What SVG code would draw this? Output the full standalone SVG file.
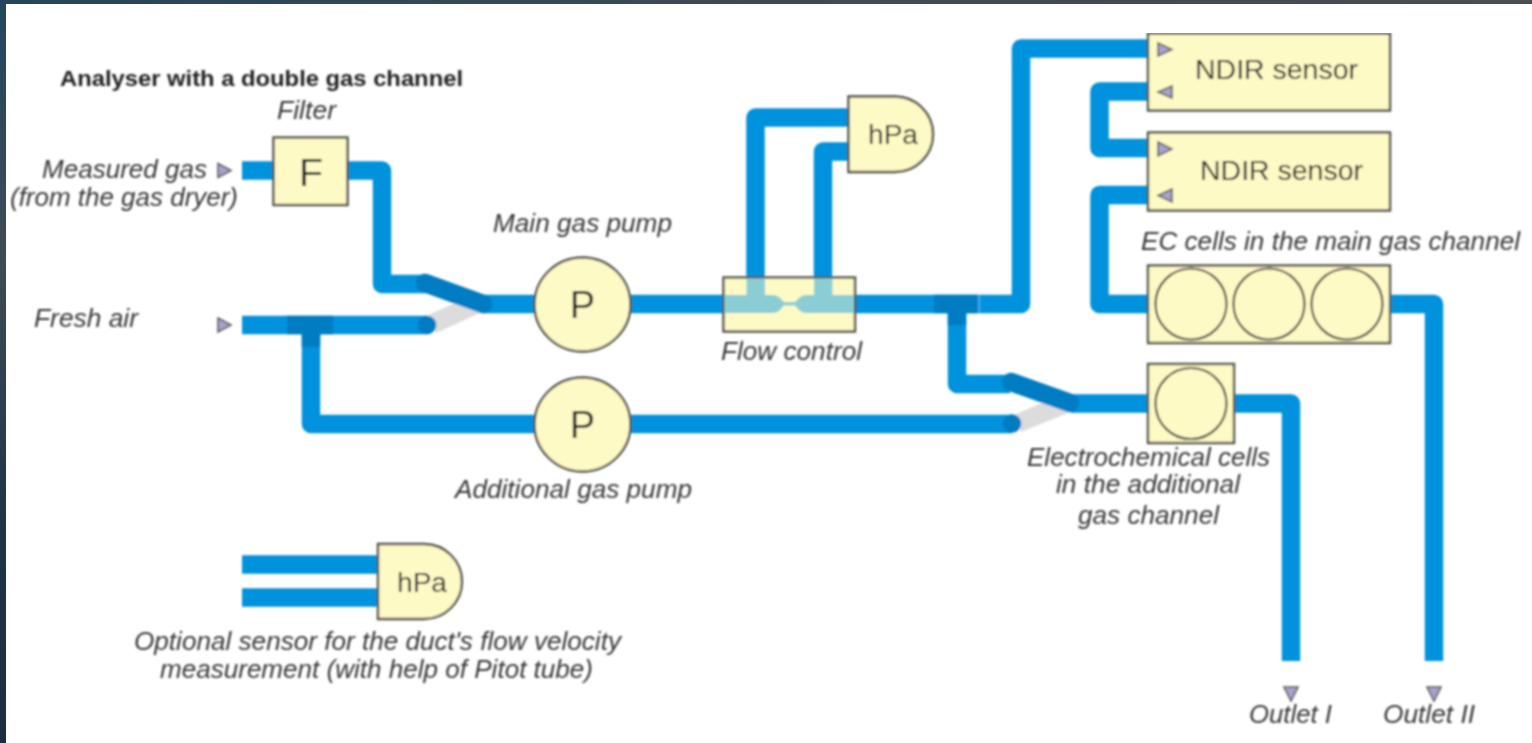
<svg xmlns="http://www.w3.org/2000/svg" width="1532" height="743" viewBox="0 0 1532 743">
<style>
.p{fill:none;stroke:#0092dd;stroke-width:18.5;stroke-linejoin:round}
.d{fill:none;stroke:#007cc3;stroke-width:18.5}
.s{fill:none;stroke:#007cc3;stroke-width:18.5;stroke-linecap:round}
.w{fill:#dcdcdc;stroke:none}
.b{fill:#fefac6;stroke:#4e4e46;stroke-width:2.4}
.c{fill:none;stroke:#4e4e46;stroke-width:2.2}
.t{fill:#a9a1cf;stroke:#5e5e5e;stroke-width:1.6}
text{font-family:"Liberation Sans",Arial,sans-serif;fill:#222}
.i{font-style:italic;font-size:25px;fill:#383838}
.h{font-weight:bold;font-size:22px}
.n{font-size:27px}
.k{font-size:38px}
</style>
<defs>
<linearGradient id="side" x1="0" y1="0" x2="0" y2="1"><stop offset="0" stop-color="#24465c"/><stop offset=".35" stop-color="#3e4c58"/><stop offset=".7" stop-color="#1d3547"/><stop offset="1" stop-color="#1c2e3d"/></linearGradient>
<linearGradient id="top" x1="0" y1="0" x2="1" y2="0"><stop offset="0" stop-color="#26455a"/><stop offset=".5" stop-color="#3d4a55"/><stop offset="1" stop-color="#4a4d50"/></linearGradient>
<filter id="soft" x="0" y="0" width="100%" height="100%"><feGaussianBlur stdDeviation="0.8"/></filter>
</defs>
<rect width="1532" height="743" fill="#fff"/>
<rect width="1532" height="4" fill="url(#top)"/>
<rect width="6" height="743" fill="url(#side)"/>
<g filter="url(#soft)">
<g id="connectors">
<path class="w" d="M428,315 L462,300 L482,312 L436,333 Z"/>
<path class="w" d="M1014,415 L1046,401 L1070,412 L1021,432 Z"/>
<path class="p" d="M242,170.500 H273"/>
<path class="p" d="M348,170.500 H382 V284 H426"/>
<path class="p" d="M484,304 H1021 V48.500 H1148"/>
<path class="p" d="M242,325 H427"/>
<path class="p" d="M311,325 V424 H1012"/>
<path class="p" d="M957,304 V384 H1010"/>
<path class="p" d="M1071,403.500 H1148"/>
<path class="p" d="M1234,403.500 H1291 V661"/>
<path class="p" d="M1148,91.500 H1099.500 V148 H1148"/>
<path class="p" d="M1148,195 H1099.500 V304 H1148"/>
<path class="p" d="M1390,304 H1434 V661"/>
<path class="p" d="M755.500,304 V117.500 H849"/>
<path class="p" d="M823,304 V151.500 H849"/>
<path class="p" d="M242,564.500 H378"/>
<path class="p" d="M242,597.500 H378"/>
<path class="d" d="M287,325 H333"/>
<path class="d" d="M311,334 V347"/>
<path class="d" d="M934,304 H978"/>
<path class="d" d="M957,313 V325"/>
<path d="M979,295 V313" stroke="#4fb2ea" stroke-width="1.500" fill="none"/>
<circle cx="427" cy="325" r="9.300" fill="#007cc3"/>
<circle cx="1012" cy="423.500" r="9.300" fill="#007cc3"/>
<path class="s" d="M425,283 L483,304"/>
<path class="s" d="M1011,382 L1070,403"/>
</g>
<g id="node-filter"><rect class="b" x="273.500" y="137.500" width="74" height="67.500"/><text class="k" x="311" y="186" text-anchor="middle" textLength="24" lengthAdjust="spacingAndGlyphs">F</text></g>
<g id="node-main-pump"><ellipse class="b" cx="582.500" cy="304.500" rx="48" ry="47"/><text class="k" x="582.500" y="318" text-anchor="middle">P</text></g>
<g id="node-additional-pump"><ellipse class="b" cx="582.500" cy="424.500" rx="48" ry="47"/><text class="k" x="582.500" y="438" text-anchor="middle">P</text></g>
<g id="node-flow-control">
<rect class="b" x="723.500" y="277.500" width="131.500" height="54"/>
<path d="M724.500,295 H746.500 V278.500 H765 V295 H772 Q778,295 781,299 L784,302 H795 L798,299 Q801,295 807,295 H814 V278.500 H832.500 V295 H854 V313 H807 Q801,313 798,309 L795,305.500 H784 L781,309 Q778,313 772,313 H724.500 Z" fill="#8bcdd5"/>
</g>
<g id="node-hpa-flow"><path class="b" d="M848.500,96.500 H895 A38,37.750 0 0 1 895,172 H848.500 Z"/><text class="n" x="893" y="144" text-anchor="middle" textLength="50" lengthAdjust="spacingAndGlyphs">hPa</text></g>
<g id="node-ndir-1"><rect class="b" x="1148" y="33.500" width="242" height="77"/>
<path class="t" d="M1158,43 L1172,49.500 L1158,56 Z"/><path class="t" d="M1172,86 L1158,92 L1172,98 Z"/>
<text class="n" x="1276.500" y="79" text-anchor="middle" textLength="163" lengthAdjust="spacingAndGlyphs">NDIR sensor</text></g>
<g id="node-ndir-2"><rect class="b" x="1148" y="132.500" width="242" height="78"/>
<path class="t" d="M1158,142 L1172,149 L1158,156 Z"/><path class="t" d="M1172,189 L1158,195.500 L1172,202 Z"/>
<text class="n" x="1281.500" y="180" text-anchor="middle" textLength="163" lengthAdjust="spacingAndGlyphs">NDIR sensor</text></g>
<g id="node-ec-main"><rect class="b" x="1148" y="265.500" width="242" height="77.500"/>
<circle class="c" cx="1191" cy="304" r="35.500"/><circle class="c" cx="1269" cy="304" r="35.500"/><circle class="c" cx="1347" cy="304" r="35.500"/></g>
<g id="node-ec-additional"><rect class="b" x="1148" y="364" width="86" height="79"/><circle class="c" cx="1191" cy="403.500" r="35.500"/></g>
<g id="node-hpa-optional"><path class="b" d="M378,544 H424 A38,37.500 0 0 1 424,619 H378 Z"/><text class="n" x="422" y="592" text-anchor="middle" textLength="50" lengthAdjust="spacingAndGlyphs">hPa</text></g>
<g id="ports">
<path class="t" d="M218,163.500 L231,170.500 L218,177.500 Z"/>
<path class="t" d="M218,318 L231,325 L218,332 Z"/>
<path class="t" d="M1284,687 H1298 L1291,701 Z"/>
<path class="t" d="M1427,687 H1441 L1434,701 Z"/>
</g>
<g id="labels">
<text class="h" x="60" y="86" textLength="403" lengthAdjust="spacingAndGlyphs">Analyser with a double gas channel</text>
<text class="i" x="277" y="119" textLength="59" lengthAdjust="spacingAndGlyphs">Filter</text>
<text class="i" x="42" y="178" textLength="165" lengthAdjust="spacingAndGlyphs">Measured gas</text>
<text class="i" x="10" y="206" textLength="228" lengthAdjust="spacingAndGlyphs">(from the gas dryer)</text>
<text class="i" x="34" y="327" textLength="104" lengthAdjust="spacingAndGlyphs">Fresh air</text>
<text class="i" x="493" y="232" textLength="179" lengthAdjust="spacingAndGlyphs">Main gas pump</text>
<text class="i" x="721" y="360" textLength="141" lengthAdjust="spacingAndGlyphs">Flow control</text>
<text class="i" x="455" y="498" textLength="237" lengthAdjust="spacingAndGlyphs">Additional gas pump</text>
<text class="i" x="1141" y="250" textLength="379" lengthAdjust="spacingAndGlyphs">EC cells in the main gas channel</text>
<text class="i" x="1027" y="466" textLength="243" lengthAdjust="spacingAndGlyphs">Electrochemical cells</text>
<text class="i" x="1056" y="493" textLength="184" lengthAdjust="spacingAndGlyphs">in the additional</text>
<text class="i" x="1078" y="524" textLength="141" lengthAdjust="spacingAndGlyphs">gas channel</text>
<text class="i" x="134" y="650" textLength="487" lengthAdjust="spacingAndGlyphs">Optional sensor for the duct's flow velocity</text>
<text class="i" x="160" y="678" textLength="433" lengthAdjust="spacingAndGlyphs">measurement (with help of Pitot tube)</text>
<text class="i" x="1249" y="723" textLength="83" lengthAdjust="spacingAndGlyphs">Outlet I</text>
<text class="i" x="1383" y="723" textLength="92" lengthAdjust="spacingAndGlyphs">Outlet II</text>
</g>
</g>
</svg>
